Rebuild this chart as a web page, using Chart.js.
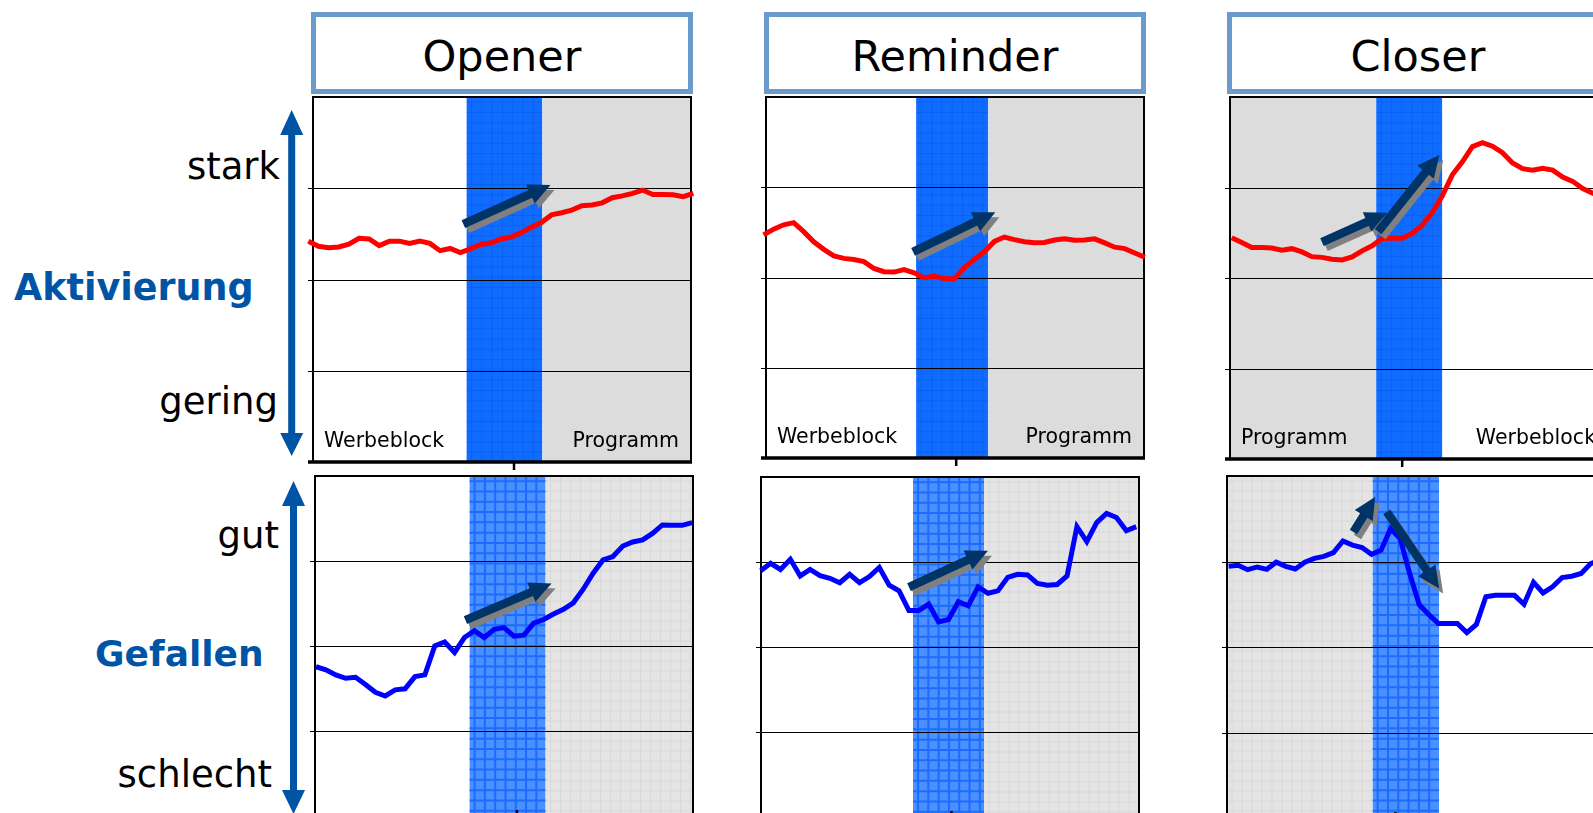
<!DOCTYPE html>
<html>
<head>
<meta charset="utf-8">
<script src="https://cdn.jsdelivr.net/npm/chart.js@4.4.1/dist/chart.umd.min.js"></script>
<style>
  html, body { margin: 0; padding: 0; }
  body { width: 1593px; height: 813px; overflow: hidden; position: relative; background: #fff; font-family: "DejaVu Sans", Verdana, sans-serif; }
  .box { position: absolute; box-sizing: border-box; border: 5px solid #6b9bcd; background: #fff;
         display: flex; align-items: center; justify-content: center; padding-top: 6px;
         font-size: 43px; color: #000; }
  .lbl { position: absolute; left: 0; line-height: 1; white-space: nowrap; }
  .scale { font-size: 37px; color: #000; text-align: right; }
  .dim { font-weight: bold; font-size: 36px; color: #0054a6; }
  .panel { position: absolute; }
</style>
</head>
<body>

<div class="box" style="left:311px; top:12px; width:382px; height:82px;">Opener</div>
<div class="box" style="left:764px; top:12px; width:382px; height:82px;">Reminder</div>
<div class="box" style="left:1227px; top:12px; width:382px; height:82px;">Closer</div>

<div class="lbl scale" style="top:148px; width:280px;">stark</div>
<div class="lbl dim" style="top:270px; left:14px; font-size:36.5px;">Aktivierung</div>
<div class="lbl scale" style="top:383px; width:278px;">gering</div>
<div class="lbl scale" style="top:517px; width:279px;">gut</div>
<div class="lbl dim" style="top:636px; left:95px;">Gefallen</div>
<div class="lbl scale" style="top:756px; width:272px;">schlecht</div>

<svg style="position:absolute; left:0; top:0;" width="1593" height="813">
  <polygon fill="#0054a6" points="291.7,110 303.2,135 295.2,135 295.2,433 303.2,433 291.7,456 280.2,433 288.2,433 288.2,135 280.2,135"/>
  <polygon fill="#0054a6" points="293.5,481 305,506 297,506 297,790 305,790 293.5,814 282,790 290,790 290,506 282,506"/>
</svg>

<div class="panel" id="p1"><canvas></canvas></div>
<div class="panel" id="p2"><canvas></canvas></div>
<div class="panel" id="p3"><canvas></canvas></div>
<div class="panel" id="p4"><canvas></canvas></div>
<div class="panel" id="p5"><canvas></canvas></div>
<div class="panel" id="p6"><canvas></canvas></div>

<script>
// Aktivierung (obere Reihe), 0 = gering, 100 = stark
const openerAktivierung = [60.5, 59.1, 58.7, 58.9, 59.7, 61.3, 61.1, 59.3, 60.5, 60.5, 59.9, 60.5, 59.9, 57.9, 58.5, 57.4, 58.4, 59.6, 60.0, 61.1, 61.6, 62.8, 64.3, 65.6, 67.7, 68.3, 69.0, 70.2, 70.4, 71.0, 72.4, 72.9, 73.6, 74.5, 73.3, 73.3, 73.2, 72.7, 73.6];
const reminderAktivierung = [61.8, 63.4, 64.6, 65.2, 62.7, 59.9, 57.8, 56.0, 55.3, 55.0, 54.4, 52.5, 51.6, 51.5, 52.2, 51.3, 49.9, 50.4, 49.7, 49.6, 52.7, 55.0, 57.1, 60.0, 61.2, 60.5, 59.9, 59.6, 59.7, 60.4, 60.7, 60.3, 60.4, 60.7, 59.6, 58.4, 58.0, 56.8, 55.6];
const closerAktivierung = [61.1, 59.8, 58.4, 58.4, 58.3, 57.7, 58.1, 57.2, 55.9, 55.7, 55.2, 55.0, 55.8, 57.5, 58.9, 60.9, 61.0, 61.0, 62.3, 64.6, 68.1, 72.7, 78.5, 82.1, 86.3, 87.4, 86.4, 84.6, 81.8, 80.2, 79.8, 80.3, 79.8, 77.9, 76.7, 74.7, 73.4, 72.3, 71.9];

// Gefallen (untere Reihe), 0 = schlecht, 100 = gut
const openerGefallen = [43.9, 43.0, 41.5, 40.5, 40.8, 38.7, 36.4, 35.3, 37.1, 37.4, 41.0, 41.5, 50.0, 51.2, 48.1, 52.5, 54.5, 52.5, 54.9, 55.4, 52.9, 53.2, 56.7, 57.8, 59.4, 60.8, 62.7, 66.7, 71.4, 75.3, 76.3, 79.4, 80.6, 81.2, 83.1, 85.6, 85.5, 85.5, 86.3];
const reminderGefallen = [72.4, 74.6, 72.8, 75.8, 70.9, 72.8, 71.0, 70.2, 68.9, 71.4, 68.9, 70.7, 73.4, 68.2, 66.5, 60.7, 60.7, 62.6, 57.4, 58.1, 63.3, 62.1, 67.7, 65.8, 66.5, 70.5, 71.4, 71.2, 68.7, 68.2, 68.4, 70.9, 85.4, 81.0, 86.6, 89.3, 88.1, 84.2, 85.4];
const closerGefallen = [73.6, 73.9, 72.6, 73.4, 72.7, 74.8, 73.6, 72.8, 74.8, 75.9, 76.5, 77.6, 81.0, 79.8, 79.1, 77.1, 78.3, 84.6, 81.7, 71.5, 62.4, 59.5, 56.9, 56.9, 56.9, 54.2, 56.6, 64.7, 65.1, 65.1, 65.1, 62.5, 68.9, 65.8, 67.6, 70.3, 70.7, 71.5, 74.4, 75.4];

// Abschnitte links / rechts vom Spot
const openerSegments = ['Werbeblock', 'Programm'];
const reminderSegments = ['Werbeblock', 'Programm'];
const closerSegments = ['Programm', 'Werbeblock'];

// Lage des Spots auf der Zeitachse (Messpunkt von / bis)
const spotAktivierung = [[15.6, 23.1], [15.2, 22.4], [14.4, 21.0]];
const spotGefallen = [[15.5, 23.2], [15.4, 22.6], [15.1, 22.1]];

// Trendpfeile: [x von, y von, x bis, y bis]
const arrowsAktivierung = [
  [[15.3, 65.2, 23.9, 75.9]],
  [[14.9, 57.1, 23.1, 68.1]],
  [[9.0, 59.9, 15.5, 68.0], [14.6, 62.8, 20.7, 84.0]]
];
const arrowsGefallen = [
  [[15.1, 57.6, 23.8, 68.4]],
  [[15.0, 67.6, 23.0, 78.3]],
  [[13.1, 83.6, 15.4, 93.9], [16.6, 89.5, 22.1, 67.1]]
];

const gridValues = [25, 50, 75];
const tickAktivierung = [20.3, 19.2, 17.0];
const tickGefallen = [20.3, 19.3, 17.5];

const PAD = 12;

function gridFill(ctx, x0, y0, w, h, base, line, step, lw) {
  ctx.save();
  ctx.beginPath();
  ctx.rect(x0, y0, w, h);
  ctx.clip();
  ctx.fillStyle = base;
  ctx.fillRect(x0, y0, w, h);
  if (line) {
    ctx.strokeStyle = line;
    ctx.lineWidth = lw;
    ctx.beginPath();
    for (let x = x0 + step / 2; x < x0 + w; x += step) { ctx.moveTo(x, y0); ctx.lineTo(x, y0 + h); }
    for (let y = y0 + step / 2; y < y0 + h; y += step) { ctx.moveTo(x0, y); ctx.lineTo(x0 + w, y); }
    ctx.stroke();
  }
  ctx.restore();
}

function blockArrow(ctx, x1, y1, x2, y2, color) {
  const dx = x2 - x1, dy = y2 - y1;
  const len = Math.hypot(dx, dy);
  const ux = dx / len, uy = dy / len, nx = -uy, ny = ux;
  const headL = Math.min(22, len * 0.55), headW = 21, shaft = 8.5;
  const bx = x2 - ux * headL, by = y2 - uy * headL;
  const pts = [
    [x1 + nx * shaft / 2, y1 + ny * shaft / 2],
    [bx + nx * shaft / 2, by + ny * shaft / 2],
    [bx + nx * headW / 2, by + ny * headW / 2],
    [x2, y2],
    [bx - nx * headW / 2, by - ny * headW / 2],
    [bx - nx * shaft / 2, by - ny * shaft / 2],
    [x1 - nx * shaft / 2, y1 - ny * shaft / 2]
  ];
  ctx.fillStyle = color;
  ctx.beginPath();
  pts.forEach((p, i) => i ? ctx.lineTo(p[0], p[1]) : ctx.moveTo(p[0], p[1]));
  ctx.closePath();
  ctx.fill();
}

const panelDeco = {
  id: 'panelDeco',
  beforeDatasetsDraw(chart, args, o) {
    const { ctx, chartArea: a, scales: { x, y } } = chart;
    const s0 = x.getPixelForValue(o.spot[0]);
    const s1 = x.getPixelForValue(o.spot[1]);
    const top = o.row === 'top';
    const h = a.bottom - a.top;

    // Hintergrund: weiss / Spot / grau
    const gray = top ? ['#dcdcdc', null] : ['#e4e4e4', '#d8d8d8'];
    const blue = top ? ['#106cff', 'rgba(0,80,220,0.35)'] : ['#4b90ff', '#1b6cff'];
    const fillSide = (x0, x1, isGray) => {
      if (isGray) gridFill(ctx, x0, a.top, x1 - x0, h, gray[0], gray[1], 10, 1);
      else { ctx.fillStyle = '#fff'; ctx.fillRect(x0, a.top, x1 - x0, h); }
    };
    fillSide(a.left, s0, o.grayLeft);
    fillSide(s1, a.right, !o.grayLeft);
    gridFill(ctx, s0, a.top, s1 - s0, h, blue[0], blue[1], 10.3, top ? 1 : 2);

    ctx.save();
    ctx.strokeStyle = '#000';
    ctx.lineWidth = 1.2;
    ctx.beginPath();
    gridValues.forEach(v => {
      const py = Math.round(y.getPixelForValue(v)) + 0.5;
      ctx.moveTo(a.left - 5, py);
      ctx.lineTo(a.right, py);
    });
    ctx.stroke();

    // Rahmen
    ctx.lineWidth = 2;
    ctx.beginPath();
    ctx.moveTo(a.left, a.bottom);
    ctx.lineTo(a.left, a.top);
    ctx.lineTo(a.right, a.top);
    ctx.lineTo(a.right, a.bottom);
    ctx.stroke();
    ctx.lineWidth = top ? 3.5 : 2;
    ctx.beginPath();
    ctx.moveTo(a.left - 5, a.bottom);
    ctx.lineTo(a.right + 1, a.bottom);
    ctx.stroke();
    const tx = x.getPixelForValue(o.tick);
    ctx.lineWidth = 2.5;
    ctx.beginPath();
    ctx.moveTo(tx, a.bottom - (top ? 0 : 6));
    ctx.lineTo(tx, a.bottom + 8);
    ctx.stroke();

    if (o.segments) {
      ctx.fillStyle = '#000';
      ctx.font = '20.5px "DejaVu Sans"';
      ctx.textBaseline = 'alphabetic';
      ctx.textAlign = 'left';
      ctx.fillText(o.segments[0], a.left + 11, a.bottom - 15);
      ctx.textAlign = 'right';
      ctx.fillText(o.segments[1], a.right - 12, a.bottom - 15);
    }
    ctx.restore();
  },
  afterDatasetsDraw(chart, args, o) {
    const { ctx, scales: { x, y } } = chart;
    ctx.save();
    o.arrows.forEach(([xa, ya, xb, yb]) => {
      const p = [x.getPixelForValue(xa), y.getPixelForValue(ya), x.getPixelForValue(xb), y.getPixelForValue(yb)];
      blockArrow(ctx, p[0] + 4, p[1] + 5, p[2] + 4, p[3] + 5, '#808080');
      blockArrow(ctx, p[0], p[1], p[2], p[3], '#003366');
    });
    ctx.restore();
  }
};

function makePanel(id, box, values, color, deco) {
  const [left, top, right, bottom, xMin, xMax] = box;
  const el = document.getElementById(id);
  el.style.left = (left - PAD) + 'px';
  el.style.top = (top - PAD) + 'px';
  el.style.width = (right - left + 2 * PAD) + 'px';
  el.style.height = (bottom - top + 2 * PAD) + 'px';

  return new Chart(el.querySelector('canvas'), {
    type: 'line',
    data: {
      datasets: [{
        data: values.map((v, i) => ({ x: i, y: v })),
        borderColor: color,
        borderWidth: 5,
        pointRadius: 0,
        tension: 0,
        clip: false
      }]
    },
    options: {
      responsive: true,
      maintainAspectRatio: false,
      animation: false,
      layout: { padding: PAD },
      scales: {
        x: { type: 'linear', min: xMin, max: xMax, display: false },
        y: { min: 0, max: 100, display: false }
      },
      plugins: {
        legend: { display: false },
        tooltip: { enabled: false },
        panelDeco: deco
      }
    },
    plugins: [panelDeco]
  });
}

// obere Reihe: Aktivierung
makePanel('p1', [313, 97, 691, 462, 0.46, 37.77], openerAktivierung, '#ff0000',
  { row: 'top', spot: spotAktivierung[0], grayLeft: false, segments: openerSegments, arrows: arrowsAktivierung[0], tick: tickAktivierung[0] });
makePanel('p2', [766, 97, 1144, 458, 0.24, 37.92], reminderAktivierung, '#ff0000',
  { row: 'top', spot: spotAktivierung[1], grayLeft: false, segments: reminderSegments, arrows: arrowsAktivierung[1], tick: tickAktivierung[1] });
makePanel('p3', [1230, 97, 1608, 459, -0.17, 37.52], closerAktivierung, '#ff0000',
  { row: 'top', spot: spotAktivierung[2], grayLeft: true, segments: closerSegments, arrows: arrowsAktivierung[2], tick: tickAktivierung[2] });

// untere Reihe: Gefallen
makePanel('p4', [315, 476, 693, 816, -0.1, 38.09], openerGefallen, '#0000ff',
  { row: 'bottom', spot: spotGefallen[0], grayLeft: false, arrows: arrowsGefallen[0], tick: tickGefallen[0] });
makePanel('p5', [761, 477, 1139, 817, 0.03, 38.28], reminderGefallen, '#0000ff',
  { row: 'bottom', spot: spotGefallen[1], grayLeft: false, arrows: arrowsGefallen[1], tick: tickGefallen[1] });
makePanel('p6', [1227, 476, 1605, 818, -0.17, 39.5], closerGefallen, '#0000ff',
  { row: 'bottom', spot: spotGefallen[2], grayLeft: true, arrows: arrowsGefallen[2], tick: tickGefallen[2] });
</script>
</body>
</html>
